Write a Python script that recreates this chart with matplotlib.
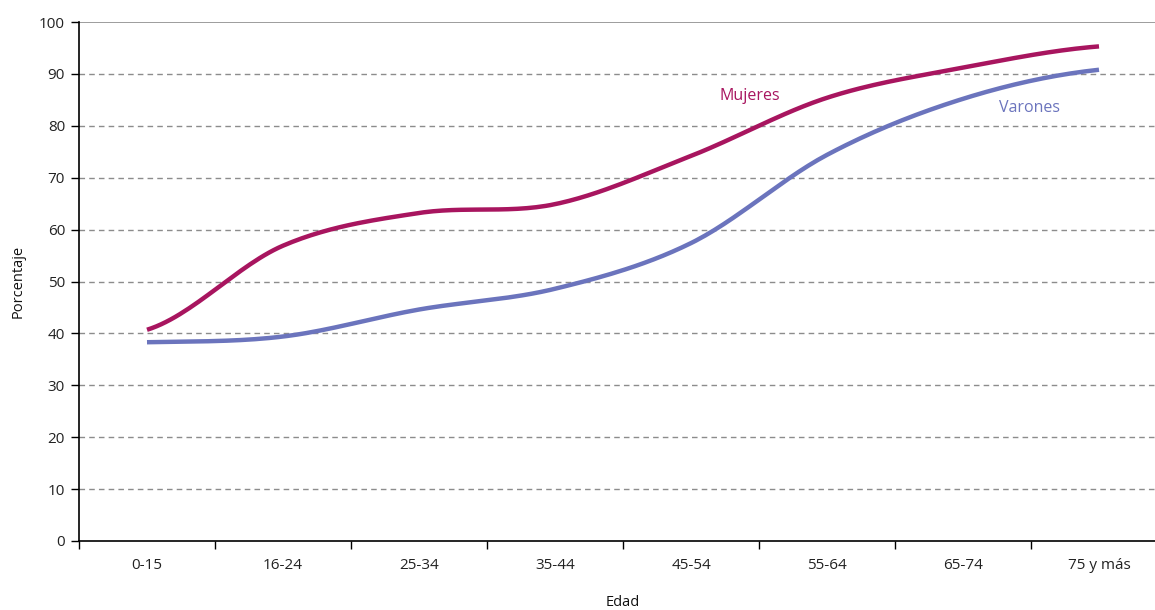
import numpy as np
import matplotlib
matplotlib.use('Agg')
import matplotlib.pyplot as plt

# Data
edades = ['0-15', '16-24', '25-34', '35-44', '45-54', '55-64', '65-74', '75 y más']
mujeres = [40.7, 56.9, 63.2, 64.9, 74.2, 85.4, 91.2, 95.3]
varones = [38.3, 39.4, 44.6, 48.6, 57.4, 74.4, 85.2, 90.8]

plt.rcParams['font.family'] = ['Open Sans', 'DejaVu Sans']


def smooth(y, n=30):
    # Catmull-Rom style smoothing (like spreadsheet smoothed lines)
    y = np.asarray(y, dtype=float)
    x = np.arange(len(y), dtype=float)
    xs, ys = [], []
    for i in range(len(y) - 1):
        p0 = y[i - 1] if i > 0 else y[i]
        p3 = y[i + 2] if i + 2 < len(y) else y[i + 1]
        p1, p2 = y[i], y[i + 1]
        c1 = p1 + (p2 - p0) / 6
        c2 = p2 - (p3 - p1) / 6
        t = np.linspace(0, 1, n)
        b = (1 - t) ** 3 * p1 + 3 * (1 - t) ** 2 * t * c1 + 3 * (1 - t) * t ** 2 * c2 + t ** 3 * p2
        xs.append(x[i] + t)
        ys.append(b)
    return np.concatenate(xs), np.concatenate(ys)


fig = plt.figure(figsize=(11.55, 6.1), dpi=100)
ax = fig.add_axes([79 / 1155, 69 / 610, 1088 / 1155, 519 / 610])

xm, ym = smooth(mujeres)
xv, yv = smooth(varones)
ax.plot(xm, ym, color='#A8155F', lw=3.2, solid_capstyle='butt', zorder=3)
ax.plot(xv, yv, color='#6B74BD', lw=3.2, solid_capstyle='butt', zorder=3)

ax.text(4.43, 85.7, 'Mujeres', color='#A8155F', fontsize=11.5, ha='center', va='center')
ax.text(6.49, 83.4, 'Varones', color='#6B74BD', fontsize=11.5, ha='center', va='center')

ax.set_xlim(-0.5, 7.5)
ax.set_ylim(0, 100)
ax.set_yticks(range(0, 101, 10))
for v in range(10, 100, 10):
    ax.axhline(v, color='#8c8c8c', lw=1, ls=(0, (4, 3)), zorder=1)
ax.axhline(100, color='#8c8c8c', lw=1.2, zorder=1)

ax.set_xticks(np.arange(-0.5, 8, 1))
ax.set_xticklabels([])
ax.set_xticks(np.arange(8), minor=True)
ax.set_xticklabels(edades, minor=True)
ax.tick_params(axis='x', which='major', length=6, width=1, direction='out')
ax.tick_params(axis='x', which='minor', length=0, pad=12, labelsize=11, labelcolor='#222222')
ax.tick_params(axis='y', length=6, width=1, direction='out', labelsize=11, labelcolor='#222222', pad=4)

for s in ['top', 'right']:
    ax.spines[s].set_visible(False)
for s in ['left', 'bottom']:
    ax.spines[s].set_linewidth(1.2)
    ax.spines[s].set_color('black')

ax.set_ylabel('Porcentaje', fontsize=10.5, color='#111111', labelpad=10)
ax.set_xlabel('Edad', fontsize=10.5, color='#111111', labelpad=16)

fig.savefig('out.png', dpi=100)
